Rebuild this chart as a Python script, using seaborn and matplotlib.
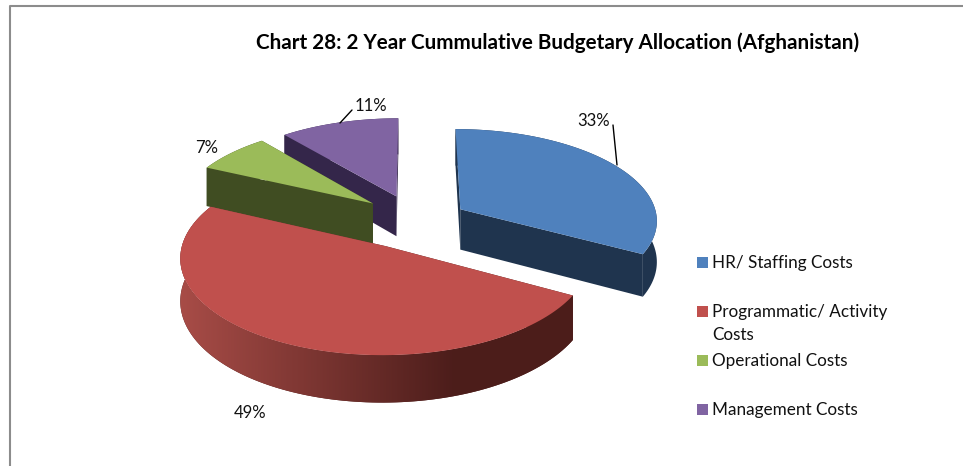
import matplotlib
matplotlib.use("Agg")
import matplotlib.pyplot as plt
from matplotlib.patches import Polygon, Rectangle
import numpy as np
import seaborn as sns

# chart values
categories = ["HR/ Staffing Costs", "Programmatic/ Activity\nCosts", "Operational Costs", "Management Costs"]
shares = [33, 49, 7, 11]
title = "Chart 28: 2 Year Cummulative Budgetary Allocation (Afghanistan)"

top_colors = ["#4f81bd", "#c0504d", "#9bbb59", "#8064a2"]
wall_colors = ["#1f344e", "#4f1e1c", "#404d22", "#34264a"]
explode = [0.3, 0.3, 0.3, 0.3]

# fake 3D view of the pie, in pixels
cx, cy = 412, 221
rx, ry = 198, 91.5
persp = 0.107
depth = 41
nudge_x = [-2, 1.5, 7, 4]  # slices are not quite where a clean explode puts them
nudge_y = [2, 0, -1, 0.5]
draw_order = [3, 2, 0, 1]  # back slices first


def project(x, y, z=0.0):
    s = 1 / (1 + persp * y)
    return cx + rx * x * s, cy - ry * y * s + depth * z * s


def rim_points(w, shift, z=0.0):
    # wedge rim, angles come straight from the pie
    t = np.radians(np.linspace(w.theta1, w.theta2, 120))
    px, py = project(w.center[0] + np.cos(t), w.center[1] + np.sin(t), z)
    return np.column_stack([px, py]) + shift


sns.set_theme(style="white")
plt.rcParams["font.family"] = ["Lato", "DejaVu Sans"]

fig, ax = plt.subplots(figsize=(9.63, 4.66), dpi=100)
fig.subplots_adjust(0, 0, 1, 1)

wedges, _ = ax.pie(shares, explode=explode, startangle=90, counterclock=False, colors=top_colors)
for w in wedges:
    w.set_visible(False)

# red wall shading, light on the left to dark on the right
shade_left = np.array([0.66, 0.30, 0.28])
shade_right = np.array([0.30, 0.115, 0.105])
f = np.clip(np.linspace(0, 1.45, 256), 0, 1)[None, :, None]
shade = shade_left * (1 - f) + shade_right * f

for n, i in enumerate(draw_order):
    w = wedges[i]
    z = 2 + n * 0.1
    shift = np.array([nudge_x[i], nudge_y[i]])
    rim = rim_points(w, shift)
    rim_low = rim_points(w, shift, 1)
    a_top = np.array(project(*w.center)) + shift
    a_low = np.array(project(*w.center, 1)) + shift

    # cut faces
    for end in [0, -1]:
        ax.add_patch(Polygon([a_top, rim[end], rim_low[end], a_low], closed=True,
                             fc=wall_colors[i], ec="none", zorder=z))
    # outer wall
    wall = Polygon(np.vstack([rim, rim_low[::-1]]), closed=True, fc=wall_colors[i], ec="none", zorder=z)
    ax.add_patch(wall)
    if i == 1:
        im = ax.imshow(shade, extent=(178, 578, 420, 200), aspect="auto", zorder=z)
        im.set_clip_path(wall)
    ax.add_patch(Polygon(np.vstack([[a_top], rim]), closed=True, fc=top_colors[i], ec="none", zorder=z + 0.01))

ax.set_aspect("auto")
ax.set_xlim(0, 963)
ax.set_ylim(466, 0)
ax.axis("off")

# title and frame
ax.text(558, 42.5, title, fontsize=14.9, fontweight="bold", color="black", ha="center", va="center")
ax.plot([10, 10, 963], [466, 6, 6], color="#8c8c8c", lw=1.5, zorder=1)

# percent labels with leaders
ax.text(371, 106, f"{shares[3]}%", fontsize=12, color="#111111", ha="center", va="center")
ax.text(594, 121, f"{shares[0]}%", fontsize=12, color="#111111", ha="center", va="center")
ax.text(207, 148, f"{shares[2]}%", fontsize=12, color="#111111", ha="center", va="center")
ax.text(250, 413, f"{shares[1]}%", fontsize=12, color="#111111", ha="center", va="center")
ax.plot([340, 352], [123, 110], color="black", lw=1, zorder=5)
ax.plot([613, 617], [125, 165], color="black", lw=1, zorder=5)

# legend by hand, entries sit on a fixed pitch even with the wrapped label
for i, label in enumerate(categories):
    y = 262 + 49 * i
    ax.add_patch(Rectangle((697, y - 5.5), 11, 11, fc=top_colors[i], ec="none"))
    ax.text(712, y - 7, label, fontsize=12.3, color="#111111", ha="left", va="top", linespacing=1.55)

fig.savefig("out.png", dpi=100)
